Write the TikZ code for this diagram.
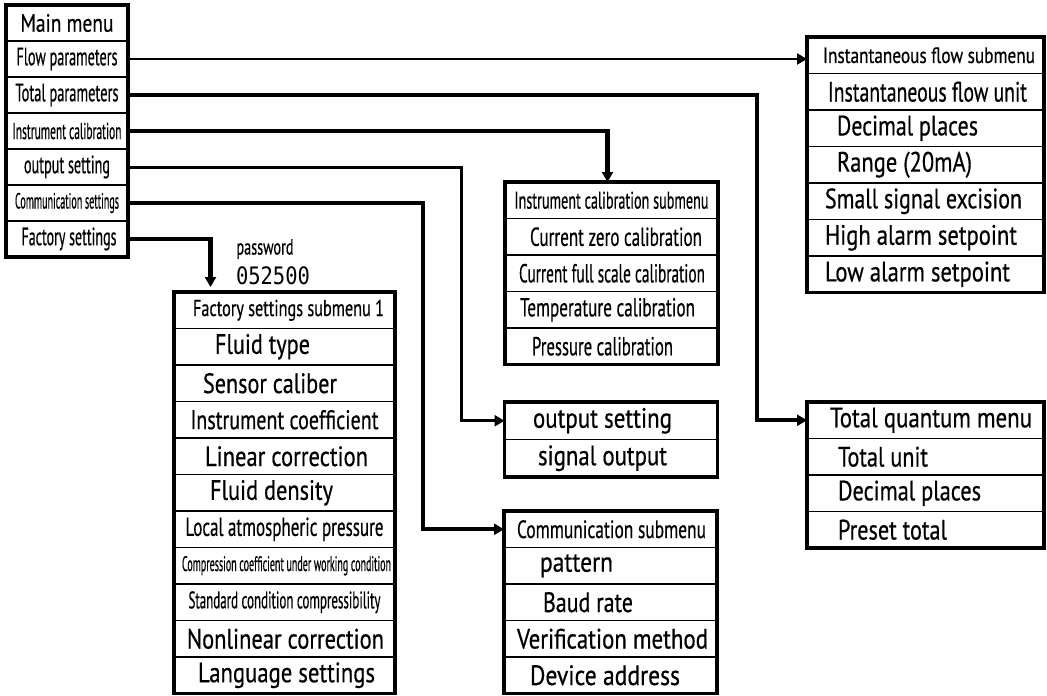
\documentclass[tikz,border=0pt]{standalone}
\usepackage{fontspec}
\setmainfont{PT Sans}
\newfontfamily\rowfont{PT Sans}[FakeBold=0.6]
\newfontfamily\lcdfont{DejaVu Sans Mono}
\usetikzlibrary{positioning,arrows.meta}
% condensed text: shift, size, width, text
\newcommand\cw[4]{\hbox to 0pt{\hss\kern#1pt\kern#1pt\rowfont\fontsize{#2}{#2}\selectfont\resizebox{#3pt}{\height}{#4}\hss}}
\tikzset{
	row/.style={draw, line width=1.6pt, inner sep=0pt, outer sep=0pt, minimum height=36.5pt},
	mainrow/.style={row, minimum width=122pt, minimum height=36pt},
	wide/.style={row, minimum width=237pt},
	mid/.style={row, minimum width=213pt},
	fac/.style={row, minimum width=221pt},
	frame/.style={draw, line width=3.2pt},
	link/.style={line width=4.2pt, -{Triangle[length=10pt,width=11pt]}},
}
\begin{document}
\begin{tikzpicture}[x=1pt,y=-1pt]
	\useasboundingbox (0,0) rectangle (1047,696);

	% main menu
	\node[mainrow, anchor=north] (mm0) at (67,5) {\cw{0}{25}{93}{Main menu}};
	\node[mainrow, below=0pt of mm0] (mm1) {\cw{0}{25}{101}{Flow parameters}};
	\node[mainrow, below=0pt of mm1] (mm2) {\cw{0}{25}{103}{Total parameters}};
	\node[mainrow, below=0pt of mm2] (mm3) {\cw{0}{23}{109}{Instrument calibration}};
	\node[mainrow, below=0pt of mm3] (mm4) {\cw{0}{25}{86}{output setting}};
	\node[mainrow, below=0pt of mm4] (mm5) {\cw{0}{22}{104}{Communication settings}};
	\node[mainrow, below=0pt of mm5] (mm6) {\cw{2}{25}{95}{Factory settings}};
	\draw[frame] (mm0.north west) rectangle (mm6.south east);

	% instantaneous flow
	\node[wide, anchor=north] (ins0) at (925.5,37) {\cw{3.5}{22}{212}{Instantaneous flow submenu}};
	\node[wide, below=0pt of ins0] (ins1) {\cw{2}{28}{199}{Instantaneous flow unit}};
	\node[wide, below=0pt of ins1] (ins2) {\cw{-18}{28}{141}{Decimal places}};
	\node[wide, below=0pt of ins2] (ins3) {\cw{-21}{28}{135}{Range (20mA)}};
	\node[wide, below=0pt of ins3] (ins4) {\cw{-2}{28}{197}{Small signal excision}};
	\node[wide, below=0pt of ins4] (ins5) {\cw{-4.5}{28}{192}{High alarm setpoint}};
	\node[wide, below=0pt of ins5] (ins6) {\cw{-8}{28}{185}{Low alarm setpoint}};
	\draw[frame] (ins0.north west) rectangle (ins6.south east);

	% instrument calibration
	\node[mid, anchor=north] (cal0) at (611.5,182) {\cw{0}{24}{194}{Instrument calibration submenu}};
	\node[mid, below=0pt of cal0] (cal1) {\cw{4.5}{26}{172}{Current zero calibration}};
	\node[mid, below=0pt of cal1] (cal2) {\cw{0.5}{26}{186}{Current full scale calibration}};
	\node[mid, below=0pt of cal2] (cal3) {\cw{-4}{26}{175}{Temperature calibration}};
	\node[mid, below=0pt of cal3] (cal4) {\cw{-9}{26}{141}{Pressure calibration}};
	\draw[frame] (cal0.north west) rectangle (cal4.south east);

	% output setting
	\node[mid, minimum height=37.5pt, anchor=north] (out0) at (611,402) {\cw{-8.5}{28}{139}{output setting}};
	\node[mid, minimum height=37.5pt, below=0pt of out0] (out1) {\cw{-8.5}{28}{129}{signal output}};
	\draw[frame] (out0.north west) rectangle (out1.south east);

	% communication
	\node[mid, anchor=north] (com0) at (610.5,511) {\cw{1}{25}{189}{Communication submenu}};
	\node[mid, below=0pt of com0] (com1) {\cw{-34}{28}{73}{pattern}};
	\node[mid, below=0pt of com1] (com2) {\cw{-22.5}{28}{90}{Baud rate}};
	\node[mid, below=0pt of com2] (com3) {\cw{2}{28}{191}{Verification method}};
	\node[mid, below=0pt of com3] (com4) {\cw{-5.5}{28}{150}{Device address}};
	\draw[frame] (com0.north west) rectangle (com4.south east);

	% total quantum
	\node[wide, anchor=north] (tot0) at (925.5,402) {\cw{5.5}{28}{202}{Total quantum menu}};
	\node[wide, below=0pt of tot0] (tot1) {\cw{-42.5}{28}{90}{Total unit}};
	\node[wide, below=0pt of tot1] (tot2) {\cw{-16}{28}{143}{Decimal places}};
	\node[wide, below=0pt of tot2] (tot3) {\cw{-33}{28}{109}{Preset total}};
	\draw[frame] (tot0.north west) rectangle (tot3.south east);

	% factory settings
	\node[fac, anchor=north] (fac0) at (284.5,292) {\cw{4}{23}{191}{Factory settings submenu 1}};
	\node[fac, below=0pt of fac0] (fac1) {\cw{-22}{28}{95}{Fluid type}};
	\node[fac, below=0pt of fac1] (fac2) {\cw{-14.5}{28}{134}{Sensor caliber}};
	\node[fac, below=0pt of fac2] (fac3) {\cw{0}{27}{188}{Instrument coefficient}};
	\node[fac, below=0pt of fac3] (fac4) {\cw{2}{28}{163}{Linear correction}};
	\node[fac, below=0pt of fac4] (fac5) {\cw{-13}{28}{123}{Fluid density}};
	\node[fac, below=0pt of fac5] (fac6) {\cw{0}{26}{198}{Local atmospheric pressure}};
	\node[fac, below=0pt of fac6] (fac7) {\cw{2}{21}{209}{Compression coefficient under working condition}};
	\node[fac, below=0pt of fac7] (fac8) {\cw{0}{24}{192}{Standard condition compressibility}};
	\node[fac, below=0pt of fac8] (fac9) {\cw{1}{28}{197}{Nonlinear correction}};
	\node[fac, below=0pt of fac9] (fac10) {\cw{2}{28}{177}{Language settings}};
	\draw[frame] (fac0.north west) rectangle (fac10.south east);

	\node (pw) at (265,249) {\rowfont\fontsize{22}{22}\selectfont\resizebox{57pt}{\height}{password}};
	\node (pwd) at (273,276) {\lcdfont\fontsize{24}{24}\selectfont\resizebox{74pt}{\height}{052500}};

	% connectors
	\draw[link, line width=2.2pt] (mm1.east) -- (mm1.east -| ins0.west);
	\draw[link] (mm2.east) -| ([xshift=-50pt]tot0.west) -- (tot0.west);
	\draw[link] (mm3.east) -| ([xshift=-4pt]cal0.north);
	\draw[link, line width=3pt] (mm4.east) -| ([xshift=-43pt]out0.west) -- (out0.west);
	\draw[link] (mm5.east) -| ([xshift=-81pt]com0.west) -- (com0.west);
	\draw[link, shorten >=5pt] (mm6.east) -| ([xshift=-74pt]fac0.north);
\end{tikzpicture}
\end{document}
